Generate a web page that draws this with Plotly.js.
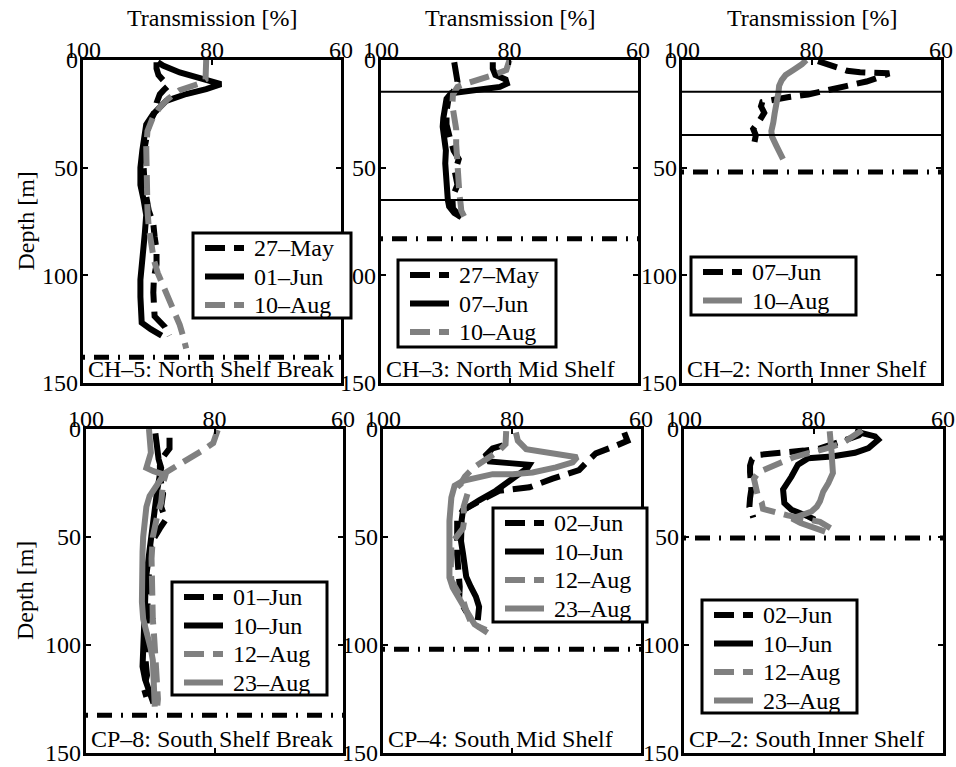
<!DOCTYPE html>
<html>
<head>
<meta charset="utf-8">
<script src="https://cdn.plot.ly/plotly-3.0.1.min.js"></script>
<style>
  html, body { margin: 0; padding: 0; background: #fff; }
  #chart { width: 956px; height: 767px; }
</style>
</head>
<body>
<div id="chart"></div>
<script>
// ---- Beam transmission profiles (transmission %, depth m) ----

// CH-5: North Shelf Break
const ch5_may27_depth = [1, 4, 7, 10, 12, 14, 16, 20, 25, 30, 40, 50, 60, 70, 76, 82, 88, 95, 101, 108, 114, 119, 124, 128];
const ch5_may27_trans = [88.6, 88.6, 88.3, 87.4, 86.8, 87.5, 88.1, 88.6, 89.0, 89.8, 90.4, 90.6, 90.4, 89.8, 89.1, 88.9, 88.6, 88.6, 89.0, 89.1, 89.0, 88.9, 87.3, 86.6];
const ch5_jun01_depth = [1, 2.6, 5.8, 8.8, 11.2, 13.5, 15.8, 19, 25, 30, 36, 42, 50, 58, 65, 72, 80, 88, 95, 102, 110, 117, 122, 125, 128];
const ch5_jun01_trans = [88.4, 87.6, 85.0, 81.4, 78.6, 80.9, 84.0, 87.1, 89.1, 90.2, 90.6, 90.8, 91.1, 91.1, 90.6, 90.2, 90.4, 90.7, 91.0, 91.1, 91.1, 91.0, 90.9, 89.5, 87.8];
const ch5_aug10_depth = [0, 3, 6, 9, 11, 14, 18, 22, 27, 33, 40, 50, 60, 70, 78, 86, 93, 99, 105, 112, 118, 123, 128, 134];
const ch5_aug10_trans = [80.9, 80.9, 80.9, 81.0, 82.0, 85.0, 86.8, 88.1, 89.2, 90.0, 90.2, 90.2, 90.1, 90.0, 89.8, 89.4, 89.0, 88.4, 87.5, 86.6, 85.8, 85.0, 84.5, 84.0];

// CH-3: North Mid Shelf
const ch3_may27_depth = [1, 4, 7, 10, 14, 18, 24, 30, 36, 42, 46, 52, 58, 64, 69, 73];
const ch3_may27_trans = [88.6, 88.4, 88.1, 88.1, 88.6, 89.5, 89.8, 89.8, 89.3, 88.7, 87.9, 88.5, 88.1, 88.9, 88.8, 87.6];
const ch3_jun07_depth = [1, 4, 7, 9, 11, 12.5, 13.5, 14.5, 15.5, 18, 22, 27, 31, 36, 42, 48, 54, 60, 65, 68, 71, 73];
const ch3_jun07_trans = [82.6, 82.6, 82.2, 80.6, 80.4, 81.5, 84.0, 87.0, 89.1, 89.8, 90.1, 90.3, 90.4, 90.1, 89.9, 90.0, 89.9, 89.8, 89.6, 89.4, 88.6, 87.5];
const ch3_aug10_depth = [0, 2, 4.6, 7, 9, 11, 12.5, 16, 21, 26, 32, 39, 45, 50, 56, 62, 67, 70, 73, 76];
const ch3_aug10_trans = [80.0, 80.2, 80.5, 82.5, 84.9, 86.8, 88.1, 88.8, 88.9, 88.6, 88.3, 88.3, 88.2, 88.1, 88.0, 87.8, 87.6, 87.5, 87.0, 86.6];

// CH-2: North Inner Shelf
const ch2_jun07_depth = [0.5, 1.5, 3, 5, 5.7, 6.2, 8, 10, 12, 14.5, 16, 17.2, 18.3, 19.5, 21.5, 24.5, 28, 32, 35, 38];
const ch2_jun07_trans = [79.0, 78.0, 76.5, 74.5, 72.5, 68.0, 69.5, 71.5, 74.5, 78.0, 80.5, 83.5, 86.0, 87.6, 87.8, 87.3, 88.0, 89.0, 88.6, 88.8];
const ch2_aug10_depth = [0, 2, 4.6, 7, 9.3, 12, 15, 20, 25, 29, 33, 35.6, 38, 40, 43, 46];
const ch2_aug10_trans = [80.8, 81.5, 82.8, 84.0, 84.6, 85.0, 85.1, 85.3, 85.7, 85.9, 86.2, 86.1, 85.8, 85.4, 84.9, 84.4];

// CP-8: South Shelf Break
const cp8_jun01_depth = [4, 9, 13, 17, 22, 26, 30, 36, 42, 46, 53, 60, 70, 80, 90, 100, 108, 114, 120, 124];
const cp8_jun01_trans = [87.0, 87.0, 88.0, 88.5, 88.5, 88.3, 88.0, 88.3, 87.6, 88.5, 89.9, 90.1, 90.3, 90.5, 90.6, 90.7, 90.7, 90.5, 91.0, 90.6];
const cp8_jun10_depth = [2, 8, 14, 18, 22, 28, 35, 42, 50, 60, 70, 80, 90, 98, 104, 110, 116, 122, 127];
const cp8_jun10_trans = [89.2, 89.0, 88.7, 88.3, 88.6, 88.9, 89.2, 89.5, 89.9, 90.4, 90.7, 90.8, 90.9, 91.0, 91.2, 91.2, 90.8, 90.0, 89.5];
const cp8_aug12_depth = [0.5, 3, 6.5, 9.6, 13, 15.8, 18, 20, 25, 30, 34, 40, 50, 60, 73, 80, 88, 96, 104, 112, 119, 125, 128];
const cp8_aug12_trans = [79.5, 79.8, 80.2, 81.7, 83.6, 84.9, 86.5, 87.5, 88.0, 88.2, 88.3, 88.9, 89.6, 89.8, 89.8, 89.7, 89.6, 89.4, 89.2, 89.0, 88.8, 88.8, 88.9];
const cp8_aug23_depth = [0, 5, 11, 15, 18, 19.5, 21, 23, 26, 31, 36, 42, 50, 57, 65, 73, 80, 88, 96, 102, 107, 115, 122, 128.5];
const cp8_aug23_trans = [90.2, 90.1, 89.9, 90.3, 90.6, 89.5, 88.0, 88.3, 89.0, 90.1, 90.6, 90.9, 91.1, 91.2, 91.3, 91.4, 91.3, 91.1, 90.3, 89.9, 89.6, 89.5, 89.4, 89.3];

// CP-4: South Mid Shelf
const cp4_jun02_depth = [1.6, 5.5, 7.5, 11.3, 15, 19, 23, 27, 28.6, 31, 33, 35, 37.5, 42, 50, 58, 66, 73, 79, 82, 85];
const cp4_jun02_trans = [62.6, 62.1, 63.7, 67.0, 68.3, 69.6, 73.7, 77.3, 82.0, 83.5, 85.1, 86.3, 87.6, 88.5, 88.6, 88.5, 88.3, 88.1, 88.2, 87.6, 87.0];
const cp4_jun10_depth = [7.6, 9, 12, 15, 15.8, 16.6, 18, 21, 25, 28.6, 33, 37.7, 42, 47, 52, 57.6, 63, 68.4, 73, 77.6, 82.3, 88.5];
const cp4_jun10_trans = [81.4, 83.0, 84.0, 83.5, 80.4, 77.3, 77.6, 78.9, 80.7, 82.5, 85.1, 87.6, 87.8, 87.9, 87.9, 87.6, 87.4, 87.1, 86.4, 85.6, 85.1, 85.3];
const cp4_aug12_depth = [1, 4, 7, 10, 14, 18, 22, 26, 30, 36, 42, 46, 53, 60, 66, 70, 75, 80, 85, 90, 93];
const cp4_aug12_trans = [80.9, 80.9, 81.0, 82.0, 84.0, 86.0, 87.3, 88.1, 86.9, 87.5, 87.4, 87.6, 89.4, 89.5, 89.5, 89.4, 88.5, 87.5, 87.0, 86.3, 84.0];
const cp4_aug23_depth = [1.6, 5.4, 9.3, 10.8, 11.6, 13.1, 15.5, 17.8, 20.1, 20.9, 20.9, 22.4, 24, 26.3, 31.7, 42.5, 57.9, 68.8, 73.4, 79.6, 85, 90.4, 93.5, 94.3];
const cp4_aug23_trans = [79.4, 79.1, 77.8, 74.7, 71.7, 69.9, 70.6, 73.2, 76.8, 79.9, 83.0, 85.6, 87.6, 88.9, 89.4, 89.7, 89.7, 89.7, 89.2, 88.1, 86.9, 85.8, 84.5, 83.8];

// CP-2: South Inner Shelf
const cp2_jun02_depth = [1, 3, 5, 7, 9, 10, 10.5, 11, 12, 14, 17, 20, 24, 28, 32, 36, 39, 41];
const cp2_jun02_trans = [72.3, 73.0, 75.0, 77.0, 79.0, 81.5, 84.0, 86.5, 88.5, 89.5, 89.8, 89.8, 89.6, 89.6, 89.8, 89.9, 89.5, 89.3];
const cp2_jun10_depth = [1.1, 3.4, 5, 8.8, 11, 12.7, 13.5, 16.5, 22, 28, 34.3, 37.4, 40.5, 42];
const cp2_jun10_trans = [73.6, 70.5, 70.0, 71.5, 73.6, 77.2, 80.8, 82.4, 83.4, 84.7, 84.5, 83.4, 80.8, 79.8];
const cp2_aug12_depth = [0.5, 2, 4, 6.5, 9, 11, 13, 15.5, 18, 20, 23, 27, 31, 34, 37, 40, 43, 46, 48];
const cp2_aug12_trans = [72.5, 73.2, 74.2, 75.5, 78.0, 80.5, 83.0, 85.0, 87.0, 88.5, 89.2, 89.0, 88.6, 88.0, 87.8, 84.0, 79.0, 77.3, 76.8];
const cp2_aug23_depth = [1, 5, 11, 16, 20.4, 25, 29, 33.5, 36, 38.2, 40, 41.5, 43.5, 45.5, 47.5];
const cp2_aug23_trans = [77.5, 77.3, 77.2, 77.1, 77.0, 77.7, 78.5, 79.0, 79.5, 80.3, 82.0, 83.3, 82.0, 80.0, 78.2];

// Station names, bottom depths and mixed-layer reference depths
const stationNames = ['CH–5: North Shelf Break', 'CH–3: North Mid Shelf', 'CH–2: North Inner Shelf',
                      'CP–8: South Shelf Break', 'CP–4: South Mid Shelf', 'CP–2: South Inner Shelf'];
const bottomDepths = [138, 83, 52, 132.5, 102, 50.5];
const layerDepths = [[], [14.7, 65], [14.7, 34.8], [], [], []];

// Axis ranges and tick values
const transRange = [100, 60];
const depthRange = [150, 0];
const transTicks = [100, 80, 60];
const depthTicks = [0, 50, 100, 150];

// ---- Styling ----
const SERIF = '"Liberation Serif", "Times New Roman", serif';
const GRAY = '#808080';
const DASH = '20px,9px';
const LW = 6;
const FONT = { family: SERIF, size: 24, color: '#000' };

const styles = {
  blackDash: { color: '#000', width: LW, dash: DASH },
  blackSolid: { color: '#000', width: LW },
  grayDash: { color: GRAY, width: LW, dash: DASH },
  graySolid: { color: GRAY, width: LW }
};

// [panel index, legend label, transmission, depth, style]
const series = [
  [1, '27–May', ch5_may27_trans, ch5_may27_depth, 'blackDash'],
  [1, '01–Jun', ch5_jun01_trans, ch5_jun01_depth, 'blackSolid'],
  [1, '10–Aug', ch5_aug10_trans, ch5_aug10_depth, 'grayDash'],
  [2, '27–May', ch3_may27_trans, ch3_may27_depth, 'blackDash'],
  [2, '07–Jun', ch3_jun07_trans, ch3_jun07_depth, 'blackSolid'],
  [2, '10–Aug', ch3_aug10_trans, ch3_aug10_depth, 'grayDash'],
  [3, '07–Jun', ch2_jun07_trans, ch2_jun07_depth, 'blackDash'],
  [3, '10–Aug', ch2_aug10_trans, ch2_aug10_depth, 'graySolid'],
  [4, '01–Jun', cp8_jun01_trans, cp8_jun01_depth, 'blackDash'],
  [4, '10–Jun', cp8_jun10_trans, cp8_jun10_depth, 'blackSolid'],
  [4, '12–Aug', cp8_aug12_trans, cp8_aug12_depth, 'grayDash'],
  [4, '23–Aug', cp8_aug23_trans, cp8_aug23_depth, 'graySolid'],
  [5, '02–Jun', cp4_jun02_trans, cp4_jun02_depth, 'blackDash'],
  [5, '10–Jun', cp4_jun10_trans, cp4_jun10_depth, 'blackSolid'],
  [5, '12–Aug', cp4_aug12_trans, cp4_aug12_depth, 'grayDash'],
  [5, '23–Aug', cp4_aug23_trans, cp4_aug23_depth, 'graySolid'],
  [6, '02–Jun', cp2_jun02_trans, cp2_jun02_depth, 'blackDash'],
  [6, '10–Jun', cp2_jun10_trans, cp2_jun10_depth, 'blackSolid'],
  [6, '12–Aug', cp2_aug12_trans, cp2_aug12_depth, 'grayDash'],
  [6, '23–Aug', cp2_aug23_trans, cp2_aug23_depth, 'graySolid']
];

const suffix = i => (i === 1 ? '' : String(i));

const traces = series.map(([p, name, x, y, st]) => ({
  type: 'scatter',
  mode: 'lines',
  name: name,
  x: x,
  y: y,
  xaxis: 'x' + suffix(p),
  yaxis: 'y' + suffix(p),
  showlegend: false,
  line: Object.assign({ shape: 'linear' }, styles[st]),
  hoverinfo: 'skip'
}));

// Reference depths, drawn across each panel on its labelled overlay axes
bottomDepths.forEach((d, i) => {
  const q = String(i + 7);
  layerDepths[i].forEach(m => traces.push({
    type: 'scatter', mode: 'lines', x: transRange, y: [m, m],
    xaxis: 'x' + q, yaxis: 'y' + q, showlegend: false, hoverinfo: 'skip',
    line: { color: '#000', width: 2 }
  }));
  traces.push({
    type: 'scatter', mode: 'lines', x: transRange, y: [d, d],
    xaxis: 'x' + q, yaxis: 'y' + q, showlegend: false, hoverinfo: 'skip',
    line: { color: '#000', width: 5, dash: '2px,9px,15px,9px' }
  });
});

// ---- Panel geometry (pixels on the 956 x 767 page) ----
const W = 956, H = 767;
const boxes = [
  [83, 341, 60, 383], [381, 638, 60, 383], [682, 941, 60, 383],
  [86, 343, 429, 753], [383, 641, 429, 753], [684, 943, 429, 753]
];
// legend frames: left, top, right, bottom
const legendBoxes = [
  [193, 233, 351, 318], [398, 260, 556, 347], [691, 257, 856, 315],
  [172, 582, 327, 695], [493, 508, 647, 622], [702, 600, 857, 713]
];
const LEG_ROW = 28.5;

const layout = {
  width: W,
  height: H,
  margin: { l: 0, r: 0, t: 0, b: 0 },
  paper_bgcolor: '#fff',
  plot_bgcolor: '#fff',
  font: FONT,
  showlegend: false,
  shapes: [],
  annotations: []
};

const px = v => v / W;
const py = v => 1 - v / H;

const frameAxis = {
  ticks: 'inside', ticklen: 5, tickwidth: 2, tickcolor: '#000',
  showline: true, linewidth: 3, linecolor: '#000', mirror: 'ticks',
  showgrid: false, zeroline: false, fixedrange: true, showticklabels: false
};
const labelAxis = {
  anchor: 'free', ticks: '', showline: false, showgrid: false, zeroline: false,
  fixedrange: true, showticklabels: true, tickfont: FONT
};

boxes.forEach(([l, r, t, b], i) => {
  const p = i + 1;
  const s = suffix(p);
  const q = String(p + 6);

  // frame axes: box outline + inside ticks
  layout['xaxis' + s] = Object.assign({}, frameAxis, {
    domain: [px(l), px(r)], anchor: 'y' + s, side: 'top',
    range: transRange, autorange: false, tickmode: 'array', tickvals: transTicks
  });
  layout['yaxis' + s] = Object.assign({}, frameAxis, {
    domain: [py(b), py(t)], anchor: 'x' + s, side: 'left',
    range: depthRange, autorange: false, tickmode: 'array', tickvals: depthTicks
  });

  // label axes: same scales, carry the tick labels
  layout['xaxis' + q] = Object.assign({}, labelAxis, {
    overlaying: 'x' + s, side: 'top', position: py(t + 3),
    range: transRange, autorange: false, tickmode: 'array',
    tickvals: transTicks, ticktext: transTicks.map(String)
  });
  layout['yaxis' + q] = Object.assign({}, labelAxis, {
    overlaying: 'y' + s, side: 'left', position: px(l - 5),
    range: depthRange, autorange: false, tickmode: 'array',
    tickvals: depthTicks, ticktext: depthTicks.map(String)
  });

  // axis titles
  if (p <= 3) {
    layout.annotations.push({
      xref: 'x' + s + ' domain', yref: 'paper', x: 0.5, y: py(18),
      xanchor: 'center', yanchor: 'middle', showarrow: false,
      text: 'Transmission [%]', font: FONT
    });
  }
  if (p === 1 || p === 4) {
    layout.annotations.push({
      xref: 'paper', yref: 'y' + s + ' domain', x: px(25), y: 0.5,
      xanchor: 'center', yanchor: 'middle', showarrow: false, textangle: -90,
      text: 'Depth [m]', font: FONT
    });
  }

  // station label
  layout.annotations.push({
    xref: 'x' + s + ' domain', yref: 'y' + s + ' domain',
    x: 0.01, y: 0, xanchor: 'left', yanchor: 'bottom', yshift: -1,
    text: stationNames[i], showarrow: false, font: FONT
  });

  // legend: frame, line samples and labels built from the series list
  const [gl, gt, gr, gb] = legendBoxes[i];
  layout.shapes.push({
    type: 'rect', xref: 'paper', yref: 'paper',
    x0: px(gl), x1: px(gr), y0: py(gb), y1: py(gt),
    fillcolor: '#fff', line: { color: '#000', width: 3 }, layer: 'above'
  });
  series.filter(e => e[0] === p).forEach((e, k) => {
    const rowY = gt + 15 + k * LEG_ROW;
    layout.shapes.push({
      type: 'line', xref: 'paper', yref: 'paper',
      x0: px(gl + 12), x1: px(gl + 51), y0: py(rowY), y1: py(rowY),
      line: styles[e[4]], layer: 'above'
    });
    layout.annotations.push({
      xref: 'paper', yref: 'paper', x: px(gl + 59), y: py(rowY),
      xanchor: 'left', yanchor: 'middle', showarrow: false,
      text: e[1], font: FONT
    });
  });
});

Plotly.newPlot('chart', traces, layout, { staticPlot: true, displayModeBar: false });
</script>
</body>
</html>
